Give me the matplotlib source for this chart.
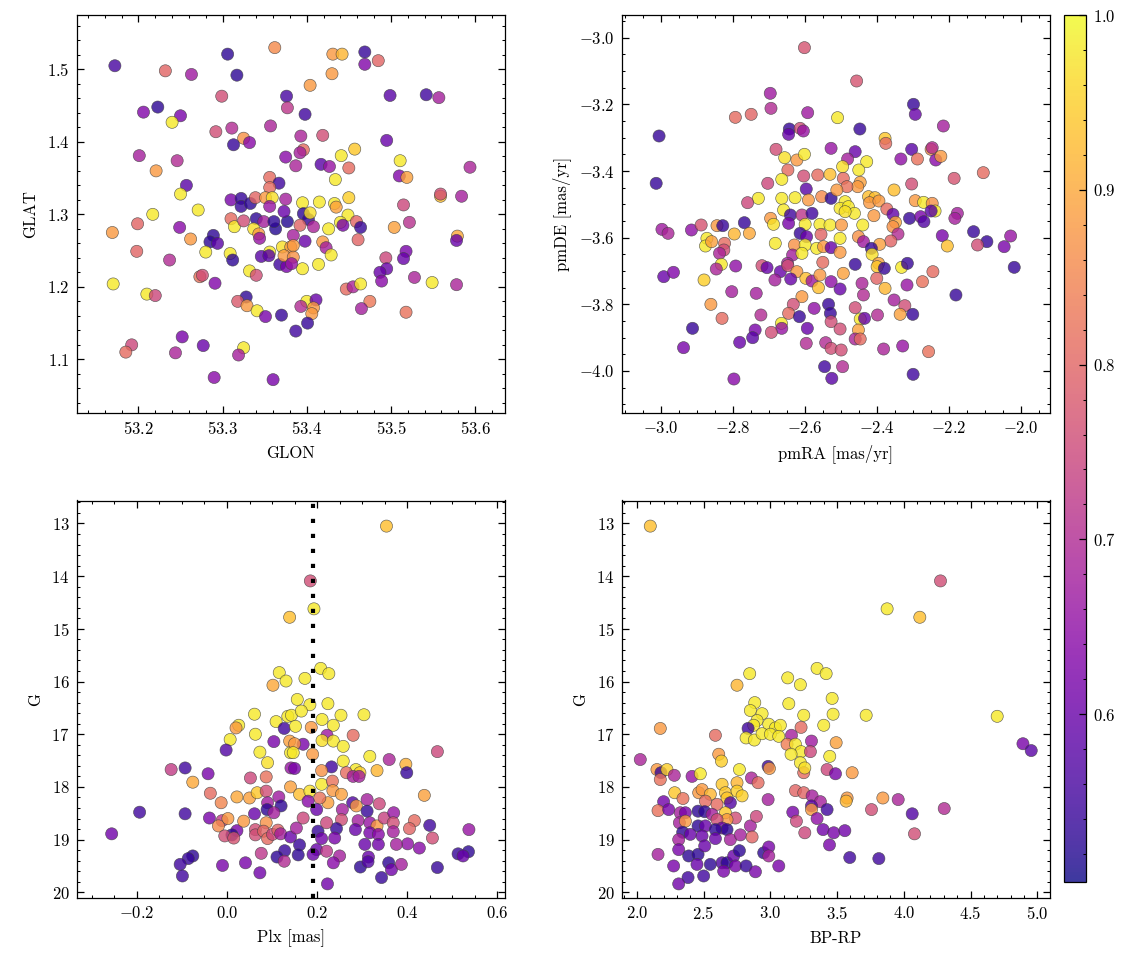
import matplotlib
matplotlib.use("Agg")
import matplotlib.pyplot as plt
from matplotlib.ticker import MultipleLocator, AutoMinorLocator
from matplotlib.colors import Normalize

# ---------------- data ----------------
glon = [53.172, 53.232, 53.263, 53.306, 53.317, 53.362, 53.299, 53.376, 53.377, 53.206,
        53.223, 53.250, 53.240, 53.292, 53.311, 53.325, 53.332, 53.313, 53.357, 53.201,
        53.246, 53.221, 53.375, 53.257, 53.250, 53.271, 53.217, 53.199, 53.169, 53.249,
        53.262, 53.289, 53.285, 53.294, 53.280, 53.198, 53.237, 53.309, 53.312, 53.356,
        53.367, 53.356, 53.170, 53.210, 53.220, 53.273, 53.276, 53.291, 53.332, 53.340,
        53.328, 53.318, 53.329, 53.341, 53.351, 53.370, 53.252, 53.192, 53.185, 53.244,
        53.277, 53.325, 53.319, 53.290, 53.360, 53.310, 53.322, 53.322, 53.333, 53.339,
        53.351, 53.359, 53.375, 53.310, 53.314, 53.325, 53.340, 53.349, 53.356, 53.363,
        53.361, 53.377, 53.373, 53.337, 53.343, 53.344, 53.371, 53.381, 53.356, 53.346,
        53.355, 53.368, 53.376, 53.373, 53.431, 53.442, 53.469, 53.469, 53.485, 53.430,
        53.404, 53.499, 53.542, 53.557, 53.398, 53.393, 53.419, 53.495, 53.396, 53.392,
        53.387, 53.417, 53.427, 53.441, 53.457, 53.450, 53.434, 53.511, 53.510, 53.519,
        53.594, 53.559, 53.559, 53.584, 53.515, 53.522, 53.504, 53.579, 53.578, 53.494,
        53.518, 53.515, 53.495, 53.487, 53.489, 53.528, 53.549, 53.578, 53.395, 53.415,
        53.433, 53.435, 53.450, 53.449, 53.440, 53.443, 53.459, 53.464, 53.461, 53.426,
        53.396, 53.402, 53.404, 53.408, 53.392, 53.398, 53.384, 53.384, 53.419, 53.423,
        53.429, 53.414, 53.395, 53.384, 53.382, 53.447, 53.455, 53.464, 53.475, 53.465,
        53.518, 53.400, 53.411, 53.393, 53.408, 53.406, 53.401, 53.387]
glat = [1.505, 1.498, 1.493, 1.521, 1.492, 1.530, 1.463, 1.463, 1.447, 1.441,
        1.448, 1.436, 1.427, 1.414, 1.419, 1.405, 1.399, 1.396, 1.422, 1.381,
        1.374, 1.360, 1.379, 1.340, 1.328, 1.306, 1.300, 1.287, 1.275, 1.282,
        1.266, 1.271, 1.262, 1.260, 1.248, 1.249, 1.237, 1.246, 1.237, 1.351,
        1.343, 1.337, 1.204, 1.190, 1.188, 1.214, 1.216, 1.205, 1.222, 1.216,
        1.186, 1.180, 1.174, 1.167, 1.159, 1.161, 1.131, 1.120, 1.110, 1.109,
        1.119, 1.116, 1.106, 1.075, 1.072, 1.320, 1.322, 1.311, 1.315, 1.323,
        1.323, 1.323, 1.321, 1.294, 1.283, 1.291, 1.294, 1.290, 1.311, 1.280,
        1.290, 1.290, 1.304, 1.280, 1.273, 1.267, 1.255, 1.255, 1.248, 1.242,
        1.243, 1.231, 1.228, 1.243, 1.521, 1.521, 1.524, 1.507, 1.512, 1.494,
        1.478, 1.464, 1.465, 1.461, 1.438, 1.408, 1.409, 1.402, 1.389, 1.385,
        1.367, 1.369, 1.366, 1.381, 1.390, 1.364, 1.348, 1.374, 1.353, 1.351,
        1.365, 1.325, 1.328, 1.325, 1.313, 1.289, 1.282, 1.270, 1.264, 1.240,
        1.249, 1.239, 1.225, 1.220, 1.208, 1.213, 1.206, 1.203, 1.316, 1.317,
        1.315, 1.310, 1.323, 1.299, 1.289, 1.285, 1.290, 1.282, 1.265, 1.280,
        1.301, 1.293, 1.302, 1.283, 1.285, 1.263, 1.271, 1.257, 1.262, 1.254,
        1.244, 1.231, 1.225, 1.241, 1.232, 1.197, 1.200, 1.204, 1.180, 1.170,
        1.165, 1.180, 1.182, 1.173, 1.171, 1.163, 1.150, 1.139]
prob_pos = [0.56, 0.80, 0.67, 0.53, 0.53, 0.86, 0.76, 0.56, 0.72, 0.63,
            0.53, 0.62, 0.98, 0.76, 0.70, 0.87, 0.64, 0.54, 0.69, 0.68,
            0.70, 0.88, 0.64, 0.58, 0.98, 0.98, 0.98, 0.80, 0.88, 0.64,
            0.88, 0.53, 0.53, 0.58, 0.98, 0.80, 0.70, 0.98, 0.53, 0.81,
            0.55, 0.81, 0.98, 0.98, 0.75, 0.82, 0.76, 0.63, 0.98, 0.76,
            0.53, 0.78, 0.88, 0.98, 0.62, 0.54, 0.62, 0.75, 0.81, 0.69,
            0.60, 0.98, 0.68, 0.64, 0.62, 0.62, 0.54, 0.54, 0.53, 0.80,
            0.88, 0.97, 0.68, 0.81, 0.98, 0.76, 0.53, 0.68, 0.66, 0.52,
            0.53, 0.52, 0.60, 0.97, 0.88, 0.66, 0.97, 0.88, 0.98, 0.58,
            0.58, 0.55, 0.62, 0.88, 0.88, 0.92, 0.54, 0.63, 0.80, 0.88,
            0.88, 0.58, 0.55, 0.68, 0.55, 0.69, 0.76, 0.60, 0.81, 0.68,
            0.69, 0.58, 0.66, 0.98, 0.94, 0.81, 0.98, 0.98, 0.63, 0.89,
            0.69, 0.93, 0.76, 0.68, 0.75, 0.71, 0.89, 0.90, 0.60, 0.75,
            0.62, 0.60, 0.60, 0.60, 0.64, 0.69, 0.98, 0.69, 0.98, 0.98,
            0.98, 0.89, 0.95, 0.98, 0.98, 0.62, 0.80, 0.54, 0.80, 0.98,
            0.53, 0.54, 0.97, 0.69, 0.80, 0.60, 0.68, 0.88, 0.88, 0.68,
            0.98, 0.98, 0.98, 0.87, 0.66, 0.81, 0.69, 0.98, 0.83, 0.68,
            0.82, 0.98, 0.60, 0.70, 0.88, 0.88, 0.54, 0.55]

pmra = [-2.602, -2.697, -2.695, -2.794, -2.750, -2.593, -3.006, -3.014, -2.644, -2.646,
        -2.614, -2.605, -2.681, -2.657, -2.623, -2.602, -2.528, -2.510, -2.648, -2.665,
        -2.704, -2.604, -2.565, -2.531, -2.597, -2.730, -2.665, -2.628, -2.591, -2.554,
        -2.528, -2.760, -2.660, -2.641, -2.696, -2.688, -2.646, -2.609, -2.581, -2.559,
        -2.531, -2.600, -2.998, -2.981, -2.916, -2.889, -2.845, -2.829, -2.769, -2.797,
        -2.755, -2.873, -2.877, -2.860, -2.824, -2.826, -2.838, -2.683, -2.614, -2.596,
        -2.556, -2.630, -2.600, -2.568, -2.549, -2.528, -2.635, -2.649, -2.609, -2.551,
        -2.833, -2.847, -2.793, -2.720, -2.706, -2.669, -2.648, -2.623, -2.881, -2.993,
        -2.966, -2.684, -2.640, -2.598, -2.581, -2.559, -2.563, -2.528, -2.804, -2.736,
        -2.609, -2.862, -2.633, -2.646, -2.575, -2.535, -2.530, -2.616, -2.831, -2.723,
        -2.666, -2.665, -2.594, -2.528, -2.913, -2.739, -2.746, -2.782, -2.694, -2.938,
        -2.597, -2.543, -2.528, -2.546, -2.526, -2.798, -2.457, -2.448, -2.299, -2.294,
        -2.216, -2.378, -2.376, -2.461, -2.482, -2.429, -2.451, -2.496, -2.334, -2.304,
        -2.288, -2.250, -2.247, -2.237, -2.223, -2.186, -2.105, -2.304, -2.494, -2.447,
        -2.454, -2.484, -2.512, -2.353, -2.424, -2.406, -2.421, -2.395, -2.489, -2.503,
        -2.480, -2.463, -2.489, -2.294, -2.271, -2.247, -2.239, -2.250, -2.373, -2.356,
        -2.349, -2.310, -2.279, -2.270, -2.177, -2.184, -2.409, -2.440, -2.499, -2.452,
        -2.438, -2.356, -2.342, -2.362, -2.393, -2.416, -2.414, -2.503, -2.503, -2.219,
        -2.205, -2.132, -2.095, -2.121, -2.047, -2.029, -2.019, -2.461, -2.396, -2.400,
        -2.380, -2.332, -2.316, -2.245, -2.494, -2.274, -2.401, -2.442, -2.503, -2.317,
        -2.378, -2.438, -2.181, -2.353, -2.323, -2.461, -2.336, -2.301, -2.399, -2.447,
        -2.435, -2.503, -2.452, -2.461, -2.447, -2.500, -2.496, -2.382, -2.329, -2.257,
        -2.300]
pmde = [-3.030, -3.167, -3.212, -3.239, -3.230, -3.225, -3.295, -3.437, -3.274, -3.290,
        -3.272, -3.280, -3.335, -3.360, -3.367, -3.350, -3.332, -3.240, -3.397, -3.425,
        -3.437, -3.415, -3.412, -3.410, -3.454, -3.482, -3.482, -3.480, -3.487, -3.477,
        -3.482, -3.495, -3.517, -3.532, -3.542, -3.560, -3.557, -3.532, -3.527, -3.560,
        -3.562, -3.560, -3.575, -3.587, -3.577, -3.562, -3.564, -3.564, -3.555, -3.589,
        -3.587, -3.602, -3.625, -3.612, -3.617, -3.637, -3.647, -3.617, -3.587, -3.597,
        -3.590, -3.622, -3.622, -3.632, -3.627, -3.630, -3.652, -3.677, -3.647, -3.674,
        -3.680, -3.694, -3.685, -3.684, -3.690, -3.702, -3.684, -3.702, -3.727, -3.717,
        -3.704, -3.727, -3.724, -3.722, -3.730, -3.712, -3.750, -3.732, -3.762, -3.767,
        -3.777, -3.800, -3.800, -3.827, -3.812, -3.800, -3.827, -3.837, -3.842, -3.832,
        -3.857, -3.872, -3.872, -3.852, -3.872, -3.877, -3.900, -3.914, -3.884, -3.930,
        -3.917, -3.915, -3.932, -3.987, -4.022, -4.024, -3.130, -3.274, -3.200, -3.230,
        -3.265, -3.302, -3.317, -3.342, -3.364, -3.372, -3.397, -3.387, -3.364, -3.335,
        -3.364, -3.335, -3.330, -3.367, -3.356, -3.422, -3.405, -3.439, -3.422, -3.434,
        -3.447, -3.447, -3.457, -3.457, -3.477, -3.480, -3.495, -3.490, -3.492, -3.512,
        -3.507, -3.527, -3.522, -3.489, -3.494, -3.497, -3.520, -3.520, -3.514, -3.530,
        -3.554, -3.542, -3.537, -3.552, -3.527, -3.542, -3.534, -3.562, -3.562, -3.597,
        -3.612, -3.567, -3.589, -3.610, -3.620, -3.632, -3.650, -3.602, -3.644, -3.594,
        -3.625, -3.582, -3.612, -3.622, -3.627, -3.595, -3.689, -3.680, -3.677, -3.687,
        -3.692, -3.689, -3.677, -3.702, -3.707, -3.732, -3.722, -3.737, -3.754, -3.742,
        -3.752, -3.772, -3.772, -3.787, -3.804, -3.810, -3.830, -3.830, -3.832, -3.844,
        -3.842, -3.874, -3.877, -3.904, -3.904, -3.937, -3.987, -3.934, -3.925, -3.942,
        -4.010]
prob_pm = [0.77, 0.67, 0.70, 0.81, 0.80, 0.67, 0.54, 0.54, 0.54, 0.60,
           0.76, 0.66, 0.76, 0.97, 0.88, 0.98, 0.66, 0.98, 0.81, 0.98,
           0.75, 0.76, 0.81, 0.93, 0.58, 0.98, 0.98, 0.98, 0.88, 0.86,
           0.53, 0.75, 0.98, 0.55, 0.88, 0.97, 0.62, 0.72, 0.55, 0.98,
           0.98, 0.98, 0.67, 0.69, 0.65, 0.77, 0.88, 0.54, 0.54, 0.92,
           0.90, 0.98, 0.98, 0.89, 0.81, 0.76, 0.69, 0.98, 0.54, 0.60,
           0.80, 0.87, 0.98, 0.98, 0.88, 0.60, 0.68, 0.68, 0.98, 0.81,
           0.98, 0.69, 0.65, 0.76, 0.60, 0.60, 0.76, 0.88, 0.95, 0.60,
           0.63, 0.68, 0.60, 0.93, 0.67, 0.88, 0.93, 0.65, 0.68, 0.68,
           0.88, 0.88, 0.76, 0.81, 0.65, 0.54, 0.54, 0.54, 0.81, 0.70,
           0.98, 0.66, 0.60, 0.76, 0.54, 0.62, 0.58, 0.60, 0.76, 0.62,
           0.70, 0.70, 0.76, 0.55, 0.58, 0.64, 0.77, 0.54, 0.54, 0.60,
           0.68, 0.94, 0.81, 0.60, 0.68, 0.98, 0.98, 0.97, 0.65, 0.58,
           0.82, 0.86, 0.70, 0.64, 0.88, 0.77, 0.81, 0.76, 0.81, 0.89,
           0.88, 0.82, 0.88, 0.93, 0.93, 0.93, 0.88, 0.88, 0.98, 0.98,
           0.98, 0.98, 0.97, 0.88, 0.98, 0.87, 0.98, 0.58, 0.81, 0.59,
           0.90, 0.54, 0.62, 0.57, 0.68, 0.68, 0.88, 0.98, 0.88, 0.87,
           0.67, 0.87, 0.70, 0.80, 0.89, 0.54, 0.97, 0.98, 0.88, 0.62,
           0.93, 0.54, 0.54, 0.76, 0.62, 0.66, 0.54, 0.54, 0.89, 0.94,
           0.54, 0.98, 0.54, 0.81, 0.89, 0.82, 0.80, 0.69, 0.60, 0.66,
           0.92, 0.70, 0.54, 0.68, 0.76, 0.76, 0.89, 0.54, 0.70, 0.98,
           0.60, 0.76, 0.89, 0.69, 0.81, 0.76, 0.70, 0.69, 0.66, 0.82,
           0.55]

plx = [0.139, 0.116, 0.131, 0.102, 0.061, 0.109, 0.135, 0.127, 0.139, 0.141,
       0.026, 0.020, 0.007, -0.002, 0.063, 0.104, 0.073, 0.090, 0.142, -0.124,
       -0.093, -0.042, -0.076, 0.052, 0.087, -0.037, -0.013, 0.022, 0.050, 0.067,
       0.087, 0.115, 0.141, 0.090, 0.120, 0.089, 0.061, 0.104, -0.194, -0.093,
       -0.039, -0.011, 0.002, -0.019, 0.022, 0.011, -0.005, 0.015, 0.037, 0.063,
       0.063, 0.087, 0.081, 0.090, 0.101, 0.113, 0.119, 0.141, -0.256, 0.076,
       0.128, 0.111, 0.127, -0.076, -0.086, -0.104, -0.099, -0.010, 0.041, 0.073,
       0.354, 0.185, 0.193, 0.208, 0.226, 0.173, 0.156, 0.184, 0.224, 0.143,
       0.165, 0.253, 0.304, 0.152, 0.187, 0.211, 0.236, 0.222, 0.211, 0.236,
       0.258, 0.280, 0.169, 0.150, 0.147, 0.190, 0.258, 0.317, 0.360, 0.333,
       0.286, 0.295, 0.265, 0.280, 0.293, 0.232, 0.210, 0.150, 0.397, 0.399,
       0.467, 0.438, 0.161, 0.184, 0.210, 0.234, 0.235, 0.254, 0.224, 0.206,
       0.180, 0.199, 0.279, 0.287, 0.311, 0.338, 0.311, 0.256, 0.254, 0.291,
       0.317, 0.333, 0.349, 0.370, 0.369, 0.416, 0.405, 0.450, 0.456, 0.537,
       0.285, 0.243, 0.202, 0.221, 0.154, 0.169, 0.210, 0.239, 0.317, 0.336,
       0.369, 0.401, 0.427, 0.306, 0.336, 0.376, 0.161, 0.199, 0.221, 0.191,
       0.250, 0.158, 0.236, 0.296, 0.314, 0.313, 0.359, 0.365, 0.387, 0.343,
       0.223, 0.467, 0.513, 0.536, 0.524]
gmag_plx = [14.78, 15.83, 15.99, 16.07, 16.62, 16.76, 16.66, 16.89, 17.13, 17.35,
            16.83, 16.88, 17.10, 17.30, 17.00, 17.14, 17.34, 17.54, 17.64, 17.67,
            17.64, 17.75, 17.91, 17.83, 17.81, 18.12, 18.30, 18.19, 18.21, 18.11,
            18.08, 18.19, 18.00, 18.30, 18.36, 18.43, 18.51, 18.49, 18.48, 18.51,
            18.59, 18.64, 18.60, 18.74, 18.83, 18.91, 18.93, 18.97, 18.65, 18.81,
            18.91, 18.68, 18.84, 18.98, 18.90, 18.82, 18.89, 18.95, 18.89, 19.26,
            19.21, 19.33, 19.41, 19.31, 19.36, 19.47, 19.69, 19.49, 19.44, 19.63,
            13.05, 14.09, 14.62, 15.75, 15.85, 15.94, 16.34, 16.44, 16.42, 16.64,
            16.56, 16.64, 16.63, 16.85, 16.87, 16.72, 16.83, 17.02, 17.12, 17.13,
            17.23, 17.02, 17.19, 17.18, 17.35, 17.38, 17.51, 17.42, 17.48, 17.69,
            17.67, 17.73, 17.73, 17.80, 17.80, 17.62, 17.69, 17.65, 17.57, 17.73,
            17.33, 18.16, 18.14, 18.08, 17.95, 17.89, 18.07, 18.14, 18.30, 18.21,
            18.27, 18.43, 18.30, 18.36, 18.24, 18.32, 18.46, 18.43, 18.62, 18.64,
            18.68, 18.74, 18.59, 18.49, 18.68, 18.64, 18.79, 18.73, 18.97, 18.81,
            18.81, 18.79, 18.84, 18.68, 18.78, 18.59, 18.98, 18.97, 18.87, 18.90,
            18.85, 19.08, 19.16, 19.09, 19.09, 19.09, 19.10, 19.19, 19.22, 19.28,
            19.31, 19.29, 19.44, 19.52, 19.33, 19.42, 19.44, 19.57, 19.47, 19.72,
            19.84, 19.53, 19.27, 19.23, 19.31]
prob_plx = [0.93, 0.98, 0.98, 0.90, 0.98, 0.98, 0.98, 0.55, 0.89, 0.98,
            0.98, 0.88, 0.98, 0.57, 0.98, 0.62, 0.98, 0.97, 0.66, 0.73,
            0.55, 0.62, 0.90, 0.75, 0.82, 0.81, 0.85, 0.90, 0.89, 0.94,
            0.76, 0.67, 0.89, 0.67, 0.53, 0.53, 0.60, 0.68, 0.55, 0.55,
            0.62, 0.73, 0.88, 0.86, 0.62, 0.53, 0.76, 0.77, 0.88, 0.76,
            0.76, 0.87, 0.80, 0.81, 0.75, 0.80, 0.68, 0.60, 0.61, 0.72,
            0.54, 0.53, 0.70, 0.53, 0.54, 0.55, 0.55, 0.62, 0.62, 0.61,
            0.93, 0.76, 0.98, 0.98, 0.98, 0.98, 0.98, 0.98, 0.98, 0.98,
            0.98, 0.98, 0.98, 0.98, 0.88, 0.98, 0.98, 0.67, 0.97, 0.98,
            0.98, 0.81, 0.62, 0.88, 0.98, 0.88, 0.98, 0.98, 0.69, 0.92,
            0.98, 0.95, 0.81, 0.68, 0.68, 0.55, 0.87, 0.62, 0.91, 0.54,
            0.75, 0.89, 0.93, 0.97, 0.98, 0.82, 0.88, 0.89, 0.89, 0.82,
            0.64, 0.60, 0.57, 0.88, 0.68, 0.75, 0.54, 0.68, 0.76, 0.68,
            0.66, 0.88, 0.74, 0.66, 0.76, 0.81, 0.80, 0.55, 0.76, 0.66,
            0.60, 0.54, 0.54, 0.75, 0.68, 0.75, 0.61, 0.62, 0.62, 0.64,
            0.68, 0.65, 0.64, 0.60, 0.61, 0.68, 0.54, 0.60, 0.72, 0.60,
            0.68, 0.53, 0.64, 0.53, 0.60, 0.57, 0.53, 0.61, 0.68, 0.54,
            0.61, 0.54, 0.54, 0.53, 0.60]

bprp = [2.100, 2.845, 3.130, 3.225, 3.350, 3.418, 2.750, 3.138, 3.463, 3.250,
        3.400, 3.470, 2.883, 2.850, 2.938, 2.900, 2.988, 3.038, 3.075, 2.875,
        2.833, 2.818, 2.880, 2.938, 3.000, 3.063, 3.230, 3.158, 3.125, 3.188,
        3.230, 3.308, 3.300, 3.493, 3.445, 3.155, 3.225, 3.250, 3.258, 3.425,
        3.488, 2.175, 2.588, 2.613, 2.633, 2.025, 2.150, 2.180, 2.175, 2.225,
        2.280, 2.413, 2.475, 2.768, 2.858, 2.908, 2.983, 2.993, 3.188, 3.250,
        3.313, 3.375, 3.308, 3.308, 3.425, 2.983, 3.168, 3.195, 3.258, 3.350,
        3.395, 3.475, 3.443, 2.283, 2.345, 2.463, 2.488, 2.550, 2.638, 2.663,
        2.750, 2.750, 2.788, 2.675, 2.600, 2.700, 2.513, 2.200, 2.158, 2.238,
        2.325, 2.363, 2.458, 2.508, 2.563, 2.663, 2.738, 2.675, 2.600, 2.318,
        2.363, 2.458, 2.513, 2.638, 2.675, 2.588, 2.850, 2.895, 2.343, 2.400,
        2.488, 2.588, 2.700, 2.775, 2.863, 2.313, 2.313, 2.388, 2.458, 2.508,
        2.550, 2.638, 2.675, 2.725, 2.768, 2.738, 2.650, 2.818, 2.888, 2.950,
        2.988, 2.988, 3.063, 2.158, 2.275, 2.383, 2.313, 2.500, 2.450, 4.275,
        3.875, 4.120, 3.718, 4.700, 4.893, 4.955, 3.613, 3.575, 3.568, 3.843,
        3.958, 3.758, 4.063, 4.303, 4.080, 3.558, 3.595, 3.813]
gmag_cmd = [13.05, 15.85, 15.93, 16.06, 15.75, 15.85, 16.07, 16.42, 16.32, 16.64,
            16.83, 16.62, 16.40, 16.55, 16.61, 16.74, 16.81, 16.88, 16.83, 16.83,
            16.89, 17.07, 17.11, 16.99, 17.00, 17.04, 16.87, 17.02, 17.19, 17.19,
            17.33, 17.13, 17.33, 17.16, 17.42, 17.38, 17.54, 17.73, 17.64, 17.67,
            17.75, 16.89, 17.02, 17.38, 17.51, 17.48, 17.67, 17.73, 17.86, 17.67,
            17.78, 17.80, 17.75, 17.67, 17.83, 17.92, 17.61, 17.65, 18.07, 18.11,
            18.17, 18.28, 18.36, 18.43, 18.43, 18.24, 18.48, 18.65, 18.87, 18.60,
            18.81, 18.87, 19.10, 18.11, 18.22, 18.11, 18.05, 18.14, 17.95, 18.11,
            17.92, 18.08, 18.17, 18.21, 18.33, 18.30, 18.27, 18.28, 18.45, 18.43,
            18.49, 18.49, 18.46, 18.47, 18.52, 18.49, 18.59, 18.62, 18.62, 18.68,
            18.65, 18.74, 18.74, 18.78, 18.81, 18.81, 18.74, 18.56, 18.86, 18.90,
            18.93, 18.98, 19.00, 18.91, 18.95, 19.00, 19.19, 19.31, 19.28, 19.12,
            19.47, 19.44, 19.44, 19.31, 19.21, 19.50, 19.60, 19.50, 19.61, 19.25,
            19.14, 19.31, 19.50, 19.28, 19.50, 19.72, 19.84, 19.69, 19.47, 14.09,
            14.62, 14.78, 16.64, 16.66, 17.18, 17.31, 17.73, 18.21, 18.27, 18.21,
            18.24, 18.43, 18.51, 18.41, 18.89, 18.83, 19.34, 19.36]
prob_cmd = [0.93, 0.98, 0.98, 0.98, 0.98, 0.98, 0.92, 0.98, 0.98, 0.98,
            0.98, 0.98, 0.98, 0.98, 0.98, 0.98, 0.98, 0.98, 0.98, 0.98,
            0.55, 0.98, 0.98, 0.98, 0.98, 0.98, 0.81, 0.68, 0.84, 0.98,
            0.98, 0.67, 0.75, 0.89, 0.98, 0.98, 0.98, 0.81, 0.97, 0.75,
            0.62, 0.88, 0.81, 0.88, 0.95, 0.69, 0.88, 0.54, 0.82, 0.95,
            0.69, 0.66, 0.98, 0.98, 0.69, 0.81, 0.55, 0.88, 0.80, 0.80,
            0.68, 0.68, 0.58, 0.88, 0.55, 0.68, 0.62, 0.75, 0.75, 0.65,
            0.61, 0.62, 0.62, 0.94, 0.82, 0.88, 0.88, 0.92, 0.94, 0.94,
            0.92, 0.95, 0.95, 0.94, 0.81, 0.57, 0.81, 0.61, 0.82, 0.62,
            0.68, 0.62, 0.53, 0.53, 0.68, 0.94, 0.76, 0.88, 0.76, 0.68,
            0.88, 0.53, 0.60, 0.60, 0.53, 0.53, 0.68, 0.75, 0.53, 0.60,
            0.60, 0.60, 0.68, 0.68, 0.80, 0.68, 0.62, 0.53, 0.53, 0.60,
            0.53, 0.57, 0.53, 0.60, 0.53, 0.62, 0.62, 0.54, 0.62, 0.53,
            0.62, 0.68, 0.62, 0.68, 0.62, 0.55, 0.61, 0.55, 0.60, 0.76,
            0.98, 0.93, 0.98, 0.98, 0.62, 0.58, 0.88, 0.88, 0.92, 0.88,
            0.69, 0.76, 0.57, 0.70, 0.76, 0.61, 0.55, 0.55]

plx_cut = 0.19
prob_min, prob_max = 0.504, 1.0
cbar_ticks = [0.6, 0.7, 0.8, 0.9, 1.0]

# ---------------- style ----------------
plt.rcParams.update({
    "font.family": "serif",
    "font.serif": ["cmr10", "DejaVu Serif"],
    "mathtext.fontset": "cm",
    "axes.formatter.use_mathtext": True,
    "font.size": 8,
    "axes.linewidth": 0.6,
    "xtick.direction": "in", "ytick.direction": "in",
    "xtick.top": True, "ytick.right": True,
    "xtick.major.size": 3.2, "ytick.major.size": 3.2,
    "xtick.minor.size": 1.6, "ytick.minor.size": 1.6,
    "xtick.major.width": 0.6, "ytick.major.width": 0.6,
    "xtick.minor.width": 0.5, "ytick.minor.width": 0.5,
    "xtick.minor.visible": True, "ytick.minor.visible": True,
    "axes.unicode_minus": True,
})

W, H = 1133, 965
fig = plt.figure(figsize=(W / 150, H / 150), dpi=150)

def frac(x0, x1, ytop, ybot):
    return [x0 / W, 1 - ybot / H, (x1 - x0) / W, (ybot - ytop) / H]

ax1 = fig.add_axes(frac(77, 504.5, 15, 413))
ax2 = fig.add_axes(frac(622, 1049.5, 15, 413))
ax3 = fig.add_axes(frac(77, 504.5, 500.5, 898))
ax4 = fig.add_axes(frac(622, 1049.5, 500.5, 898))
cax = fig.add_axes(frac(1064, 1085.5, 15, 882))

norm = Normalize(vmin=prob_min, vmax=prob_max)
kw = dict(c=None, cmap="plasma", norm=norm, s=34, alpha=0.8,
          edgecolors="0.25", linewidths=0.3)

def scat(ax, x, y, p):
    k = dict(kw); k["c"] = p
    return ax.scatter(x, y, **k)

sc = scat(ax1, glon, glat, prob_pos)
ax1.set_xlim(53.127, 53.635)
ax1.set_ylim(1.026, 1.575)
ax1.xaxis.set_major_locator(MultipleLocator(0.1))
ax1.yaxis.set_major_locator(MultipleLocator(0.1))
ax1.set_xlabel("GLON")
ax1.set_ylabel("GLAT")

scat(ax2, pmra, pmde, prob_pm)
ax2.set_xlim(-3.109, -1.921)
ax2.set_ylim(-4.126, -2.932)
ax2.xaxis.set_major_locator(MultipleLocator(0.2))
ax2.yaxis.set_major_locator(MultipleLocator(0.2))
ax2.set_xlabel("pmRA [mas/yr]")
ax2.set_ylabel("pmDE [mas/yr]")

scat(ax3, plx, gmag_plx, prob_plx)
ax3.axvline(plx_cut, color="k", lw=2.0, ls=(0, (1, 2.6)), dash_capstyle="butt", zorder=3)
ax3.set_xlim(-0.333, 0.616)
ax3.set_ylim(20.108, 12.564)
ax3.xaxis.set_major_locator(MultipleLocator(0.2))
ax3.yaxis.set_major_locator(MultipleLocator(1))
ax3.set_xlabel("Plx [mas]")
ax3.set_ylabel("G")

scat(ax4, bprp, gmag_cmd, prob_cmd)
ax4.set_xlim(1.888, 5.092)
ax4.set_ylim(20.108, 12.564)
ax4.xaxis.set_major_locator(MultipleLocator(0.5))
ax4.yaxis.set_major_locator(MultipleLocator(1))
ax4.set_xlabel("BP-RP")
ax4.set_ylabel("G")

for ax in (ax1, ax2, ax3, ax4):
    ax.xaxis.set_minor_locator(AutoMinorLocator())
    ax.yaxis.set_minor_locator(AutoMinorLocator())

cb = fig.colorbar(sc, cax=cax)
cb.set_ticks(cbar_ticks)
cb.ax.yaxis.set_minor_locator(MultipleLocator(0.02))
cb.ax.tick_params(which="both", direction="in", right=True, left=False)
cb.outline.set_linewidth(0.6)

fig.savefig("out.png", dpi=150)
